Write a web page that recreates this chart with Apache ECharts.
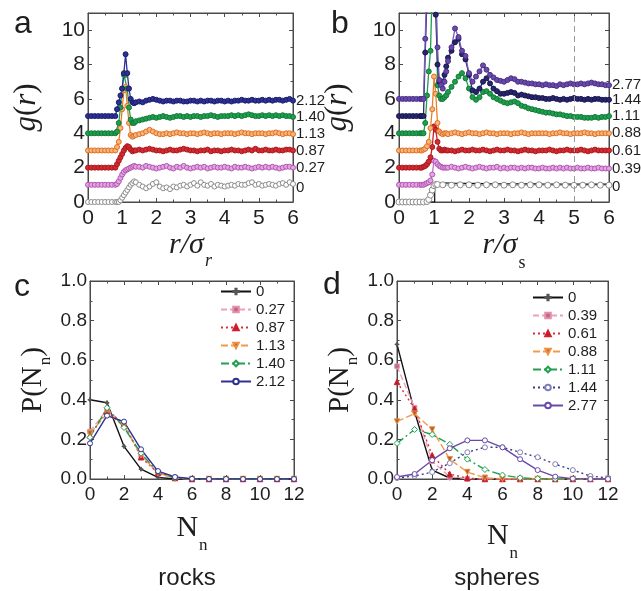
<!DOCTYPE html>
<html><head><meta charset="utf-8">
<script src="https://cdn.jsdelivr.net/npm/echarts@6/dist/echarts.min.js"></script>
<style>html,body{margin:0;padding:0;background:#fff}#c{width:641px;height:591px}</style>
</head><body><div id="c"></div>
<script>
// ---------------- DATA ----------------
// panel a : g(r) of rocks (curves offset by 1 each)
const rA = [0,0.1,0.2,0.3,0.4,0.5,0.6,0.7,0.8,0.85,0.9,0.95,1.0,1.05,1.1,1.15,1.2,1.25,1.3,1.35,1.4,1.5,1.6,1.7,1.8,1.9,2.0,2.1,2.2,2.3,2.4,2.5,2.6,2.7,2.8,2.9,3.0,3.1,3.2,3.3,3.4,3.5,3.6,3.7,3.8,3.9,4.0,4.1,4.2,4.3,4.4,4.5,4.6,4.7,4.8,4.9,5.0,5.1,5.2,5.3,5.4,5.5,5.6,5.7,5.8,5.9,6.0];
const gA_0    = [0,0,0,0,0,0,0,0,0, 0,0,0.1,0.25,0.4,0.55,0.7,0.85,1.0,1.1,1.2,1.15, 1.0,0.9,0.8,0.9,1.05,1.15, 0.9,0.8,0.85,0.75,0.9,0.85,0.95,1.0,0.9,1.0, 1.1,0.95,1.15,1.0,0.95,1.05,0.9,1.0,0.95,0.9, 0.95,1.0,0.95,1.05,1.0,1.0,1.1,1.15,1.0,1.05, 0.95,1.0,1.05,1.0,0.95,1.05,1.1,1.0,1.15,1.05];
const gA_027  = [1,1,1,1,1,1,1,1,1, 1.05,1.2,1.4,1.6,1.75,1.85,1.9,1.95,2.0,2.05,2.1,2.05, 2.05,2.0,2.1,2.05,2.0,1.95, 2.0,2.05,2.1,2.0,1.95,2.05,2.0,2.1,2.0,1.95, 2.0,2.05,2.0,2.05,1.95,2.0,2.05,2.0,2.0,2.05, 2.0,1.95,2.05,2.0,2.0,2.05,2.0,1.95,2.0,2.05, 2.0,2.05,2.0,2.05,2.0,1.95,2.0,2.05,2.05,2.0];
const gA_087  = [2,2,2,2,2,2,2,2,2, 2.2,2.4,2.6,2.8,3.0,3.15,3.25,3.2,3.05,2.95,3.0,3.0, 3.05,3.0,3.05,3.1,3.05,3.0, 3.0,2.95,3.0,3.05,3.0,3.0,3.05,3.1,3.05,3.0, 3.0,2.95,3.0,3.0,3.05,2.95,3.0,3.0,2.95,3.0, 3.0,3.05,3.0,3.0,2.95,3.0,3.05,3.0,3.1,3.0, 3.0,3.05,3.0,3.0,3.05,3.0,3.0,3.05,3.05,3.0];
const gA_113  = [3,3,3,3,3,3,3,3,3, 3.2,3.5,4.3,5.4,6.5,6.7,5.6,4.6,3.9,3.8,3.85,3.9, 3.95,4.0,4.1,4.2,4.1,4.0, 3.95,3.95,4.0,3.95,4.0,4.05,4.0,4.0,3.95,4.0, 4.0,3.95,4.0,4.05,4.0,3.95,4.0,4.0,3.95,4.0, 4.0,4.0,3.95,4.0,4.05,4.0,4.0,3.95,4.0,4.0, 4.0,3.95,4.0,4.0,4.05,4.0,3.95,4.0,4.0,3.95];
const gA_140  = [4,4,4,4,4,4,4,4,4, 4.1,4.6,5.5,6.6,7.4,7.4,6.6,5.5,4.8,4.6,4.6,4.7, 4.75,4.8,4.85,4.9,4.95,4.9, 4.95,5.0,4.95,4.9,4.95,5.0,5.0,4.95,5.0,4.95, 5.0,5.0,4.95,5.0,5.0,5.05,5.0,4.95,5.0,5.0, 5.0,5.05,5.0,5.05,5.0,5.05,5.1,5.05,5.0,5.0, 5.05,5.0,5.05,5.0,5.05,5.0,5.05,5.0,5.0,4.95];
const gA_212  = [5,5,5,5,5,5,5,5,5, 5.4,5.8,6.2,6.6,7.5,8.6,7.5,6.6,6.0,5.8,5.75,5.8, 5.85,5.8,5.9,5.95,6.0,5.95, 5.9,5.85,5.9,5.9,5.85,5.9,5.9,5.85,5.85,5.9, 5.9,5.85,5.9,5.85,5.9,5.9,5.85,5.9,5.9,5.85, 5.9,5.85,5.9,5.9,5.95,5.9,5.9,5.95,5.9,5.9, 5.95,5.9,5.95,5.9,5.95,5.95,5.9,5.95,6.0,5.9];

// panel b : g(r) of spheres
const rB = [0,0.1,0.2,0.3,0.4,0.5,0.6,0.65,0.7,0.75,0.8,0.85,0.9,0.95,1.0,1.05,1.1,1.15,1.2,1.25,1.3,1.35,1.4,1.5,1.6,1.7,1.8,1.9,2.0,2.1,2.2,2.3,2.4,2.5,2.6,2.7,2.8,2.9,3.0,3.1,3.2,3.3,3.4,3.5,3.6,3.7,3.8,3.9,4.0,4.1,4.2,4.3,4.4,4.5,4.6,4.7,4.8,4.9,5.0,5.1,5.2,5.3,5.4,5.5,5.6,5.7,5.8,5.9,6.0];
const gB_039  = [1,1,1,1,1,1,1, 1.0,1.0,1.05,1.1,1.15,1.25,1.6,2.4,2.35,2.2,2.1,2.05,2.0,2.0,2.0,2.0, 2.05,2.0,1.95,2.0,2.05,2.0, 1.95,2.0,2.05,2.0,1.95,2.0,2.0,2.05,1.95,2.0, 1.95,2.0,2.0,1.95,2.0,1.95,2.0,2.0,1.95,1.95, 2.0,1.95,1.95,2.0,1.95,2.0,1.95,2.0,1.95,1.95, 2.0,1.95,1.95,2.0,1.95,1.95,2.0,1.95,1.95,1.95];
const gB_061  = [2,2,2,2,2,2,2, 2.0,2.05,2.1,2.2,2.35,2.6,3.2,4.4,4.2,3.5,3.1,3.0,3.0,3.05,3.0,3.0, 3.0,2.95,3.0,3.05,3.0,3.0, 3.05,3.0,3.0,3.05,3.0,2.95,3.0,3.05,3.0,3.0, 3.05,3.0,3.0,2.95,3.0,3.05,3.0,3.0,2.95,3.0, 3.0,3.0,3.05,3.0,2.95,3.0,3.0,3.05,3.0,3.0, 3.0,3.05,3.0,2.95,3.0,3.05,3.0,3.0,3.0,3.0];
const gB_088  = [3,3,3,3,3,3,3, 3.0,3.05,3.1,3.25,3.5,4.3,5.4,7.3,6.3,4.6,4.1,4.0,3.95,4.0,4.0,3.95, 4.0,4.05,4.0,3.95,4.0,4.05, 4.0,4.0,3.95,4.0,4.05,4.0,4.0,3.95,4.0,4.0, 4.0,3.95,4.0,4.0,4.05,4.0,3.95,4.0,4.0,4.0, 4.0,4.0,3.95,4.0,4.0,4.05,4.0,4.0,3.95,4.0, 4.0,4.0,4.05,4.0,4.0,3.95,4.0,4.0,4.0,4.0];
const gB_111  = [4,4,4,4,4,4,4, 4.0,4.0,4.6,6.2,7.6,8.8,12.5,16,14,6.8,6.2,6.0,6.0,6.1,6.2,6.4, 6.7,7.0,7.3,7.5,7.2,6.6, 6.1,5.95,6.1,6.4,6.45,6.3,6.1,6.0,5.9,5.8, 5.75,5.8,5.85,5.75,5.6,5.55,5.45,5.4,5.35,5.3, 5.25,5.2,5.2,5.15,5.1,5.1,5.05,5.0,5.0,4.95, 4.95,4.95,4.9,4.9,4.9,4.95,4.9,4.95,4.95,5.0];
const gB_144  = [5,5,5,5,5,5,5, 5.0,5.0,8.7,12,15,18,18,15,10.9,8.0,7.0,6.9,7.0,7.4,7.9,8.4, 8.8,9.3,9.5,8.6,8.3,7.4, 6.5,6.4,6.6,7.0,7.2,6.9,6.6,6.45,6.3,6.3, 6.35,6.4,6.35,6.2,6.25,6.2,6.15,6.1,6.1,6.05, 6.05,6.0,6.0,6.05,6.0,5.95,6.0,5.95,6.0,6.05, 6.0,6.0,5.95,6.0,5.95,6.0,6.0,5.95,5.95,5.95];
const gB_277  = [6,6,6,6,6,6,6, 6.0,6.0,9.5,13,16,18,18,16,12,9.0,7.1,6.8,6.6,7.0,7.6,8.2, 9.0,10.1,9.6,8.8,8.5,7.5, 7.0,7.3,7.6,7.95,7.7,7.4,7.25,7.1,7.05,7.0, 7.1,7.2,7.15,7.0,7.0,6.95,6.9,6.9,6.85,6.85, 6.8,6.85,6.8,6.8,6.75,6.85,6.8,6.85,6.9,6.85, 6.85,6.9,6.85,6.9,6.95,6.9,6.85,6.85,6.8,6.8];
const rB0     = [0,0.1,0.2,0.3,0.4,0.5,0.6,0.7,0.8,0.85,0.9,0.95,1.0,1.05,1.1,1.25,1.5,1.75,2.0,2.25,2.5,2.75,3.0,3.25,3.5,3.75,4.0,4.25,4.5,4.75,5.0,5.25,5.5,5.75,6.0];
const gB_0    = [0,0,0,0,0,0,0,0,0.03,0.15,0.4,0.7,0.95,1.02,1.02, 1.0,0.98,1.0,1.0,0.98,1.0,1.0,0.98,1.0,0.98,1.0,1.0,0.98,1.0,0.98,0.97,0.98,1.0,0.98,0.98];
const stepX   = [0,1.02,1.02,1.5,2.5,4.0,6.0];
const stepY   = [0,0,1.12,1.1,1.07,1.05,1.04];
const markR   = 5;

// panels c, d : P(Nn)
const Nn = [0,1,2,3,4,5,6,7,8,9,10,11,12];
const pC_0    = [0.40,0.385,0.165,0.05,0.008,0,0,0,0,0,0,0,0];
const pC_027  = [0.24,0.35,0.27,0.12,0.03,0.005,0,0,0,0,0,0,0];
const pC_087  = [0.22,0.345,0.28,0.11,0.03,0.005,0,0,0,0,0,0,0];
const pC_113  = [0.23,0.33,0.27,0.12,0.03,0.005,0,0,0,0,0,0,0];
const pC_140  = [0.21,0.36,0.26,0.13,0.035,0.006,0,0,0,0,0,0,0];
const pC_212  = [0.18,0.32,0.29,0.15,0.04,0.01,0.001,0,0,0,0,0,0];
const pD_0    = [0.68,0.34,0.045,0.005,0,0,0,0,0,0,0,0,0];
const pD_039  = [0.57,0.36,0.09,0.01,0.002,0,0,0,0,0,0,0,0];
const pD_061  = [0.49,0.355,0.12,0.025,0.004,0,0,0,0,0,0,0,0];
const pD_088  = [0.29,0.33,0.25,0.10,0.035,0.006,0.001,0,0,0,0,0,0];
const pD_111  = [0.18,0.25,0.225,0.175,0.10,0.048,0.02,0.006,0.002,0,0,0,0];
const pD_144  = [0.005,0.015,0.035,0.08,0.135,0.16,0.16,0.135,0.11,0.075,0.045,0.015,0.005];
const pD_277  = [0.01,0.025,0.095,0.155,0.195,0.195,0.16,0.10,0.045,0.012,0.002,0,0];

const xTicksAB = 1, yTicksAB = 2, xTicksCD = 2, yTicksCD = 0.2;

// ---------------- STYLE ----------------
const AX = '#4a4a4a', TXT = '#1e1e1e';
const SANS = '"Liberation Sans", Arial, sans-serif';
const SERIF = '"Liberation Serif", "Times New Roman", serif';
const zip = (xs, ys) => xs.map((x, i) => [x, ys[i]]);
const chart = echarts.init(document.getElementById('c'), null, {renderer: 'canvas'});

const grids = [
  {left: 88, top: 13, width: 205, height: 189},
  {left: 399, top: 13, width: 210, height: 189},
  {left: 90, top: 281, width: 204, height: 198},
  {left: 397, top: 281, width: 211, height: 198}
];

function baseAxis(gi, max, interval) {
  return {type: 'value', gridIndex: gi, min: 0, max: max, interval: interval,
    axisLine: {show: true, onZero: false, lineStyle: {color: AX, width: 1}},
    axisTick: {show: true, inside: true, length: 4, lineStyle: {color: AX}},
    minorTick: {show: true, splitNumber: 2, length: 2.5, lineStyle: {color: AX}},
    splitLine: {show: false}, minorSplitLine: {show: false}};
}
const subRich = (fs, sfs, pad, mItalic, sItalic) => ({
  m: {fontFamily: SERIF, fontStyle: mItalic ? 'italic' : 'normal', fontSize: fs, lineHeight: fs + 4, verticalAlign: 'top', color: TXT},
  n: {fontFamily: SERIF, fontStyle: 'normal', fontSize: fs, lineHeight: fs + 4, verticalAlign: 'top', color: TXT},
  s: {fontFamily: SERIF, fontStyle: sItalic ? 'italic' : 'normal', fontSize: sfs, lineHeight: sfs + 2, padding: [pad, 0, 0, 1], verticalAlign: 'top', color: TXT}
});

const xAxis = [], yAxis = [];
function addAxes(gi, xmax, xint, ymax, yint, fs, xname, xgap, xrich, yname, ygap, yrich, yfmt) {
  xAxis.push(Object.assign(baseAxis(gi, xmax, xint), {position: 'bottom',
    axisLabel: {show: true, fontSize: fs, color: TXT, fontFamily: SANS, margin: 6},
    name: xname, nameLocation: 'middle', nameGap: xgap, nameTextStyle: {rich: xrich}}));
  xAxis.push(Object.assign(baseAxis(gi, xmax, xint), {position: 'top', axisLabel: {show: false}}));
  yAxis.push(Object.assign(baseAxis(gi, ymax, yint), {position: 'left',
    axisLabel: {show: true, fontSize: fs, color: TXT, fontFamily: SANS, margin: 3, showMaxLabel: ymax === 1, formatter: yfmt},
    name: yname, nameLocation: 'middle', nameGap: ygap, nameRotate: 90, nameTextStyle: {rich: yrich}}));
  yAxis.push(Object.assign(baseAxis(gi, ymax, yint), {position: 'right', axisLabel: {show: false}}));
}
const gName = '{m|g}{n|(}{m|r}{n|)}';
addAxes(0, 6, xTicksAB, 11, yTicksAB, 21, '{m|r/σ}{s|r}', 22, subRich(30, 18, 22, true, true), gName, 42, subRich(31, 16, 0, true, false), v => String(v));
addAxes(1, 6, xTicksAB, 11, yTicksAB, 21, '{m|r/σ}{s|s}', 22, subRich(30, 18, 24, true, false), gName, 42, subRich(31, 16, 0, true, false), v => String(v));
addAxes(2, 12, xTicksCD, 1, yTicksCD, 19, '{m|N}{s|n}', 34, subRich(30, 17, 24, false, false), '{m|P(N}{s|n}{m|)}', 38, subRich(29, 17, 18, false, false), v => v.toFixed(1));
addAxes(3, 12, xTicksCD, 1, yTicksCD, 19, '{m|N}{s|n}', 42, subRich(30, 17, 24, false, false), '{m|P(N}{s|n}{m|)}', 38, subRich(29, 17, 18, false, false), v => v.toFixed(1));

const endLab = (dy) => ({show: true, formatter: p => p.seriesName.split(':')[1], color: TXT, fontSize: 15, fontFamily: SANS, distance: 3, offset: [0, dy || 0]});
function gSer(gi, name, xs, ys, fill, edge, line, size, dy) {
  return {type: 'line', name: name, xAxisIndex: 2 * gi, yAxisIndex: 2 * gi, data: zip(xs, ys),
    symbol: 'circle', symbolSize: size || 5, showSymbol: true, clip: true,
    lineStyle: {color: line, width: 1.3}, itemStyle: {color: fill, borderColor: edge, borderWidth: 1},
    endLabel: endLab(dy), emphasis: {disabled: true}, silent: true};
}
const PLUS = 'path://M4,0H6V4H10V6H6V10H4V6H0V4H4Z';
const pStyles = {
  '0':   {symbol: PLUS, size: 4, fill: '#555', edge: '#555', line: '#111', dash: 'solid'},
  'pk':  {symbol: 'rect', size: 4.5, fill: '#b86a8a', edge: '#e890aa', line: '#f0a0b8', dash: [6, 3]},
  'rd':  {symbol: 'triangle', size: 5.5, fill: '#b81c28', edge: '#d02030', line: '#d8303a', dash: [2, 3]},
  'or':  {symbol: 'triangle', rot: 180, size: 5.5, fill: '#b0602a', edge: '#f09040', line: '#f39a4a', dash: [7, 3]},
  'gr':  {symbol: 'diamond', size: 6, fill: '#ffffff', edge: '#22a050', line: '#22a050', dash: [8, 3, 2, 3]},
  'nv':  {symbol: 'circle', size: 5, fill: '#ffffff', edge: '#2e3192', line: '#2e3192', dash: 'solid'},
  'nd':  {symbol: 'circle', size: 5, fill: '#ffffff', edge: '#8080b8', line: '#3a3a90', dash: [2, 3]},
  'pu':  {symbol: 'circle', size: 5, fill: '#ffffff', edge: '#6a4aa8', line: '#6a4aa8', dash: 'solid'}
};
function pSer(gi, name, ys, st) {
  return {type: 'line', name: name, xAxisIndex: 2 * gi, yAxisIndex: 2 * gi, data: zip(Nn, ys),
    symbol: st.symbol, symbolSize: st.size, symbolRotate: st.rot || 0, showSymbol: true,
    lineStyle: {color: st.line, width: 1.4, type: st.dash},
    itemStyle: {color: st.fill, borderColor: st.edge, borderWidth: 1}, emphasis: {disabled: true}};
}

const series = [
  gSer(0, 'a:0', rA, gA_0, '#ffffff', '#8c8c8c', '#a0a0a0', 5, 4),
  gSer(0, 'a:0.27', rA, gA_027, '#e2a6e2', '#b455b4', '#c070c0'),
  gSer(0, 'a:0.87', rA, gA_087, '#d42a30', '#a81a20', '#c82028'),
  gSer(0, 'a:1.13', rA, gA_113, '#f7b47c', '#e07020', '#e8802a'),
  gSer(0, 'a:1.40', rA, gA_140, '#1f9e4d', '#137a38', '#1f9e4d'),
  gSer(0, 'a:2.12', rA, gA_212, '#2e3192', '#1b1d6e', '#2e3192'),
  Object.assign(gSer(1, 'b:0', rB0, gB_0, '#ffffff', '#8c8c8c', '#a0a0a0', 6, 2), {
    markLine: {silent: true, symbol: ['none', 'none'], label: {show: false},
      lineStyle: {color: '#9a9a9a', type: [6, 4], width: 1}, data: [{xAxis: markR}]}}),
  {type: 'line', name: 'b:step', xAxisIndex: 2, yAxisIndex: 2, data: zip(stepX, stepY), symbol: 'none',
    lineStyle: {color: '#111', width: 1.2}, silent: true},
  gSer(1, 'b:0.39', rB, gB_039, '#e2a6e2', '#b455b4', '#c070c0'),
  gSer(1, 'b:0.61', rB, gB_061, '#d42a30', '#a81a20', '#c82028'),
  gSer(1, 'b:0.88', rB, gB_088, '#f7b47c', '#e07020', '#e8802a'),
  gSer(1, 'b:1.11', rB, gB_111, '#1f9e4d', '#137a38', '#1f9e4d'),
  gSer(1, 'b:1.44', rB, gB_144, '#28266e', '#18164e', '#28266e'),
  gSer(1, 'b:2.77', rB, gB_277, '#6a4aa8', '#4a2f8a', '#7a5ab8'),
  pSer(2, 'c:0', pC_0, pStyles['0']),
  pSer(2, 'c:0.27', pC_027, pStyles.pk),
  pSer(2, 'c:0.87', pC_087, pStyles.rd),
  pSer(2, 'c:1.13', pC_113, pStyles.or),
  pSer(2, 'c:1.40', pC_140, pStyles.gr),
  pSer(2, 'c:2.12', pC_212, pStyles.nv),
  pSer(3, 'd:0', pD_0, pStyles['0']),
  pSer(3, 'd:0.39', pD_039, pStyles.pk),
  pSer(3, 'd:0.61', pD_061, pStyles.rd),
  pSer(3, 'd:0.88', pD_088, pStyles.or),
  pSer(3, 'd:1.11', pD_111, pStyles.gr),
  pSer(3, 'd:1.44', pD_144, pStyles.nd),
  pSer(3, 'd:2.77', pD_277, pStyles.pu)
];

const legendBase = {orient: 'vertical', padding: 0, itemGap: 3, itemWidth: 30, itemHeight: 7, selectedMode: false,
  textStyle: {fontSize: 15, color: TXT, fontFamily: SANS}, formatter: n => n.split(':')[1]};
const legend = [
  Object.assign({}, legendBase, {left: 220, top: 284, data: ['c:0', 'c:0.27', 'c:0.87', 'c:1.13', 'c:1.40', 'c:2.12']}),
  Object.assign({}, legendBase, {left: 532, top: 290, data: ['d:0', 'd:0.39', 'd:0.61', 'd:0.88', 'd:1.11', 'd:1.44', 'd:2.77']})
];

const T = (txt, x, y, fs, align) => ({type: 'text', x: x, y: y, silent: true,
  style: {text: txt, fontSize: fs, fontFamily: SANS, fill: TXT, textAlign: align || 'left', textVerticalAlign: 'middle'}});

chart.setOption({
  animation: false,
  backgroundColor: '#ffffff',
  grid: grids.map(g => Object.assign({show: true, borderColor: AX, borderWidth: 1, containLabel: false}, g)),
  xAxis: xAxis, yAxis: yAxis, legend: legend, series: series,
  graphic: [
    T('a', 14, 24, 32), T('b', 331, 24, 32), T('c', 14, 287, 32), T('d', 323, 285, 32),
    T('rocks', 187, 578, 24, 'center'), T('spheres', 497, 578, 24, 'center')
  ]
});
</script></body></html>
